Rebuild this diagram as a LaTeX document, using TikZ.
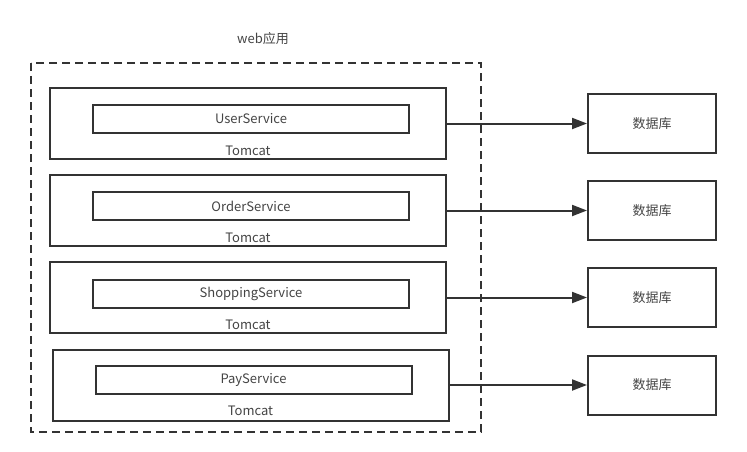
\documentclass[tikz,border=0pt]{standalone}
\usepackage{fontspec}
\setmainfont{Noto Sans CJK SC}
\usepackage{tikz}
\usetikzlibrary{arrows.meta}
\definecolor{linegray}{HTML}{333333}
\definecolor{textgray}{HTML}{444444}
\tikzset{
    tomcatbox/.style={draw=linegray, line width=2pt, minimum width=396pt, minimum height=71pt, inner sep=0pt},
    servicebox/.style={draw=linegray, line width=2pt, minimum width=316pt, minimum height=28pt, inner sep=0pt, text=textgray, font=\fontsize{13}{15}\selectfont},
    dbbox/.style={draw=linegray, line width=2pt, minimum width=128pt, minimum height=59pt, inner sep=0pt, text=textgray, font=\fontsize{13}{15}\selectfont},
    lbl/.style={text=textgray, inner sep=0pt, font=\fontsize{13}{15}\selectfont},
    conn/.style={draw=linegray, line width=2pt, -{Triangle[length=15pt, width=11pt]}}
}
\begin{document}
\begin{tikzpicture}[x=1pt, y=-1pt]
        \useasboundingbox (0, 0) rectangle (747, 452);

        \draw[linegray, line width=2pt, dash pattern=on 8pt off 5pt] (31, 63) rectangle (481, 432);
        \node[lbl] (webapp) at (263, 39) {web应用};

        \node[tomcatbox] (tomcat1) at (248, 123.5) {};
        \node[servicebox] (user) at (251, 119) {UserService};
        \node[lbl] (tomcatlbl1) at (248, 151) {Tomcat};

        \node[tomcatbox] (tomcat2) at (248, 210.5) {};
        \node[servicebox] (order) at (251, 206) {OrderService};
        \node[lbl] (tomcatlbl2) at (248, 238) {Tomcat};

        \node[tomcatbox] (tomcat3) at (248, 297.5) {};
        \node[servicebox] (shopping) at (251, 294) {ShoppingService};
        \node[lbl] (tomcatlbl3) at (248, 325) {Tomcat};

        \node[tomcatbox] (tomcat4) at (250.5, 385) {};
        \node[servicebox] (pay) at (253.5, 380) {PayService};
        \node[lbl] (tomcatlbl4) at (250.5, 411) {Tomcat};

        \node[dbbox] (db1) at (652, 123.5) {数据库};
        \node[dbbox] (db2) at (652, 210.5) {数据库};
        \node[dbbox] (db3) at (652, 297.5) {数据库};
        \node[dbbox] (db4) at (652, 385) {数据库};

        \draw[conn] (tomcat1) -- (db1);
        \draw[conn] (tomcat2) -- (db2);
        \draw[conn] (tomcat3) -- (db3);
        \draw[conn] (tomcat4) -- (db4);
    \end{tikzpicture}
\end{document}
